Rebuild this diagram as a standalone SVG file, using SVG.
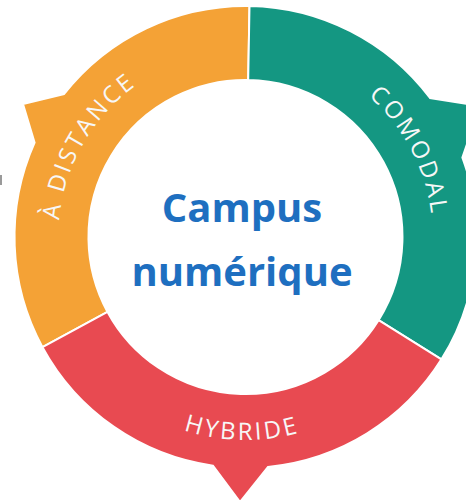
<svg xmlns="http://www.w3.org/2000/svg" width="466" height="500" viewBox="0 0 466 500">
  <style>
    .seg { stroke: #ffffff; stroke-width: 2; stroke-linejoin: miter; }
    .ring { font-family: "Open Sans", "Liberation Sans", sans-serif; font-size: 24px; fill: #f7f7f7; letter-spacing: 2.8px; }
    .center { font-family: "Open Sans", "Liberation Sans", sans-serif; font-weight: 700; font-size: 40px; fill: #1e6fc0; text-anchor: middle; }
  </style>
  <defs>
    <path id="pOrange" d="M 82.74 329.08 A 187 187 0 0 1 247.13 50.0"/>
    <path id="pTeal" d="M 253.0 50.15 A 187 187 0 0 1 403.56 336.92"/>
    <path id="pRed" d="M 67.95 335.42 A 203 203 0 0 0 419.5 341.55"/>
  </defs>
  <rect width="466" height="500" fill="#ffffff"/>
  <rect x="0" y="175" width="2" height="10" fill="#9a9a9a"/>
  <g id="a-distance">
    <path class="seg" fill="#f4a236" d="M 42.5 347.2 A 231 231 0 0 1 34.6 142.7 L 23 104 L 63.95 94.17 A 231 231 0 0 1 249.5 6.0 L 248.2 80.0 A 157 157 0 0 0 107.5 311.9 Z"/>
    <text class="ring"><textPath href="#pOrange" startOffset="49.5%" text-anchor="middle">À DISTANCE</textPath></text>
  </g>
  <g id="comodal">
    <path class="seg" fill="#149782" d="M 249.5 6.0 A 231 231 0 0 1 430.0 98.0 L 480 106 L 462.4 157.6 A 231 231 0 0 1 441.4 359.4 L 378.6 320.2 A 157 157 0 0 0 248.2 80.0 Z"/>
    <text class="ring"><textPath href="#pTeal" startOffset="50%" text-anchor="middle">COMODAL</textPath></text>
  </g>
  <g id="hybride">
    <path class="seg" fill="#e84a51" d="M 441.4 359.4 A 231 231 0 0 1 268.0 466.9 L 240 502 L 212.95 465.7 A 231 231 0 0 1 42.5 347.2 L 107.5 311.9 A 157 157 0 0 0 378.6 320.2 Z"/>
    <text class="ring"><textPath href="#pRed" startOffset="50%" text-anchor="middle">HYBRIDE</textPath></text>
  </g>
  <g id="campus">
    <text class="center" x="242" y="222">Campus</text>
    <text class="center" x="242" y="286">numérique</text>
  </g>
  <g id="connectors"></g>
</svg>
